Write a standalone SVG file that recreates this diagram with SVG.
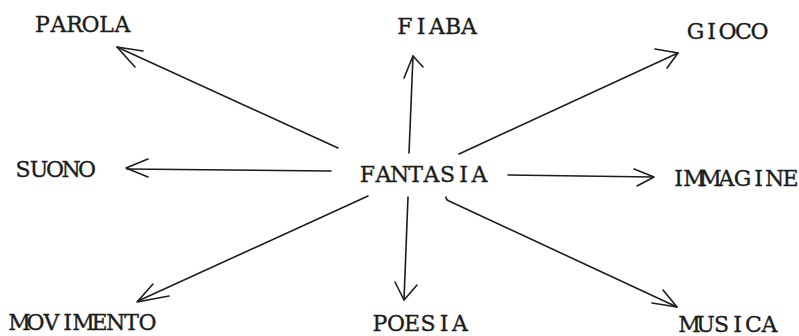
<svg xmlns="http://www.w3.org/2000/svg" width="799" height="336" viewBox="0 0 799 336">
  <style>
    /* typewriter look: slab-serif glyphs set on a fixed 16px pitch (one x per character, centred) */
    .label { font-family: "DejaVu Serif", "Liberation Serif", serif; font-size: 22px; fill: #1c1c1c; stroke: #1c1c1c; stroke-width: 0.35; text-anchor: middle; }
    .line { fill: none; stroke: #1c1c1c; stroke-width: 1.6; stroke-linecap: round; stroke-linejoin: round; }
  </style>
  <rect width="799" height="336" fill="#ffffff"/>

  <!-- centre concept -->
  <g id="fantasia"><text class="label" x="367.5 383.5 399.5 415.5 431.5 447.5 463.5 479.5" y="182">FANTASIA</text></g>

  <!-- surrounding concepts -->
  <g id="parola"><text class="label" x="42.5 58.5 74.5 90.5 106.5 122.5" y="32">PAROLA</text></g>
  <g id="fiaba"><text class="label" x="405 421 437 453 469" y="34">FIABA</text></g>
  <g id="gioco"><text class="label" x="695.5 711.5 727.5 743.5 759.5" y="39">GIOCO</text></g>
  <g id="suono"><text class="label" x="23 39 55 71 87" y="177">SUONO</text></g>
  <g id="immagine"><text class="label" x="678.5 694.5 710.5 726.5 742.5 758.5 774.5 790.5" y="186">IMMAGINE</text></g>
  <g id="movimento"><text class="label" x="19.5 35.5 51.5 67.5 83.5 99.5 115.5 131.5 147.5" y="330">MOVIMENTO</text></g>
  <g id="poesia"><text class="label" x="380 396 412 428 444 460" y="331">POESIA</text></g>
  <g id="musica"><text class="label" x="689.5 705.5 721.5 737.5 753.5 769.5" y="332">MUSICA</text></g>

  <!-- arrows radiating from FANTASIA, each with an open hand-drawn head -->
  <g id="connectors">
    <g id="to-parola">
      <path class="line" d="M338 148 L117 47"/>
      <path class="line" d="M143 51 L117 47 L135 67"/>
    </g>
    <g id="to-fiaba">
      <path class="line" d="M409 153 L413 56"/>
      <path class="line" d="M404 78 L413 56 L423 67"/>
    </g>
    <g id="to-gioco">
      <path class="line" d="M459 154 L678 53"/>
      <path class="line" d="M655 49 L678 53 L667 68"/>
    </g>
    <g id="to-suono">
      <path class="line" d="M331 171 L127 169"/>
      <path class="line" d="M148 159 L126 168 L148 177"/>
    </g>
    <g id="to-immagine">
      <path class="line" d="M508 175 L653 177"/>
      <path class="line" d="M634 169 L654 177 L637 186"/>
    </g>
    <g id="to-movimento">
      <path class="line" d="M368 196 L138 301"/>
      <path class="line" d="M153 284 L137 302 L169 296"/>
    </g>
    <g id="to-poesia">
      <path class="line" d="M408 197 L404 300"/>
      <path class="line" d="M395 282 L404 300 L417 285"/>
    </g>
    <g id="to-musica">
      <path class="line" d="M446 197 Q446 200 449 201 L677 307"/>
      <path class="line" d="M663 290 L677 307 L652 303"/>
    </g>
  </g>
</svg>
